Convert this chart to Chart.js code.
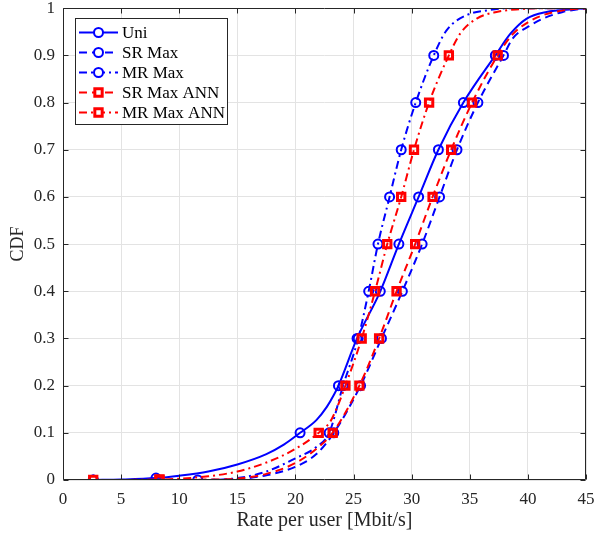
<!DOCTYPE html>
<html>
<head>
<meta charset="utf-8">
<script src="https://cdn.jsdelivr.net/npm/chart.js@4.4.0/dist/chart.umd.min.js"></script>
<style>
  html, body { margin: 0; padding: 0; background: #fff; }
</style>
</head>
<body>
<canvas id="graficoCDF" width="595" height="538"></canvas>
<script>
// valores (tasa en Mbit/s, CDF)
const xTicks = [0, 5, 10, 15, 20, 25, 30, 35, 40, 45];
const yTicks = [0, 0.1, 0.2, 0.3, 0.4, 0.5, 0.6, 0.7, 0.8, 0.9, 1];

const xUni = [2.6, 5, 8, 10, 12.5, 15, 17.5, 19, 20.4, 21.8, 22.7, 23.3, 23.7, 25.3, 27.3, 28.9, 30.6, 32.3, 34.45, 37.2, 38.5, 39.9, 41.6, 43.9, 45];
const yUni = [0, 0.001, 0.004, 0.009, 0.018, 0.033, 0.055, 0.075, 0.1, 0.127, 0.155, 0.18, 0.2, 0.3, 0.4, 0.5, 0.6, 0.7, 0.8, 0.9, 0.946, 0.978, 0.992, 0.998, 1];
const mUni = [1, 0, 1, 0, 0, 0, 0, 0, 1, 0, 0, 0, 1, 1, 1, 1, 1, 1, 1, 1, 0, 0, 0, 0, 0];

const xSR = [11.6, 15, 17.5, 20, 21.8, 23.3, 25.6, 27.4, 29.2, 30.9, 32.4, 33.9, 35.7, 37.9, 38.7, 40.1, 41.3, 43.0, 45];
const ySR = [0, 0.002, 0.01, 0.028, 0.055, 0.1, 0.2, 0.3, 0.4, 0.5, 0.6, 0.7, 0.8, 0.9, 0.936, 0.962, 0.978, 0.992, 1];
const mSR = [1, 0, 0, 0, 0, 1, 1, 1, 1, 1, 1, 1, 1, 1, 0, 0, 0, 0, 0];

const xMR = [2.6, 11.6, 15, 17.5, 20, 21.8, 22.9, 24.1, 25.4, 26.3, 27.1, 28.1, 29.1, 30.35, 31.9, 33.0, 34.7, 36.7, 38.5, 45];
const yMR = [0, 0, 0.004, 0.018, 0.046, 0.07, 0.1, 0.2, 0.3, 0.4, 0.5, 0.6, 0.7, 0.8, 0.9, 0.953, 0.985, 0.996, 1, 1];
const mMR = [1, 0, 0, 0, 0, 0, 1, 1, 1, 1, 1, 1, 1, 1, 1, 0, 0, 0, 0, 0];

const xSRA = [8.3, 12.5, 15, 17.5, 20, 22, 23.2, 25.5, 27.2, 28.7, 30.3, 31.8, 33.4, 35.2, 37.4, 38.7, 40, 41.5, 43.5, 45];
const ySRA = [0, 0.001, 0.003, 0.013, 0.036, 0.07, 0.1, 0.2, 0.3, 0.4, 0.5, 0.6, 0.7, 0.8, 0.9, 0.945, 0.97, 0.987, 0.997, 1];
const mSRA = [1, 0, 0, 0, 0, 0, 1, 1, 1, 1, 1, 1, 1, 1, 1, 0, 0, 0, 0, 0];

const xMRA = [2.6, 8.3, 12.5, 15, 17.5, 20, 22.0, 23.0, 23.55, 24.3, 25.7, 26.85, 27.9, 29.1, 30.2, 31.5, 33.2, 34.2, 35.6, 37.3, 39.3, 41, 45];
const yMRA = [0, 0.001, 0.008, 0.018, 0.037, 0.066, 0.1, 0.124, 0.152, 0.2, 0.3, 0.4, 0.5, 0.6, 0.7, 0.8, 0.9, 0.947, 0.978, 0.992, 0.998, 1, 1];
const mMRA = [1, 1, 0, 0, 0, 0, 1, 0, 0, 1, 1, 1, 1, 1, 1, 1, 1, 0, 0, 0, 0, 0, 0];

const AZUL = '#0000ff';
const ROJO = '#ff0000';
const EJE = '#262626';
const FUENTE = '"Liberation Serif", "Times New Roman", serif';

const DASH = [8, 5];
const DASHDOT = [8, 4, 2, 4];

function serie(label, xs, ys, ms, color, dash, estilo, orden) {
  const esCirculo = estilo === 'circle';
  return {
    label,
    data: xs.map((x, i) => ({ x, y: ys[i] })),
    borderColor: color,
    borderWidth: 2,
    borderDash: dash,
    showLine: true,
    fill: false,
    cubicInterpolationMode: 'monotone',
    pointStyle: estilo,
    pointRadius: ms.map(m => m ? (esCirculo ? 4.5 : 5.2) : 0),
    pointHoverRadius: 0,
    pointBorderWidth: esCirculo ? 2 : 3,
    pointBorderColor: color,
    pointBackgroundColor: 'rgba(255,255,255,0)',
    order: orden
  };
}

const datasets = [
  serie('Uni', xUni, yUni, mUni, AZUL, [], 'circle', 5),
  serie('SR Max', xSR, ySR, mSR, AZUL, DASH, 'circle', 4),
  serie('MR Max', xMR, yMR, mMR, AZUL, DASHDOT, 'circle', 3),
  serie('SR Max ANN', xSRA, ySRA, mSRA, ROJO, DASH, 'rect', 2),
  serie('MR Max ANN', xMRA, yMRA, mMRA, ROJO, DASHDOT, 'rect', 1)
];

function marcador(ctx, estilo, x, y, color) {
  ctx.save();
  ctx.setLineDash([]);
  ctx.strokeStyle = color;
  ctx.beginPath();
  if (estilo === 'circle') {
    ctx.lineWidth = 2;
    ctx.arc(x, y, 4.5, 0, Math.PI * 2);
  } else {
    ctx.lineWidth = 3;
    const s = 5.2 * Math.SQRT1_2;
    ctx.rect(x - s, y - s, 2 * s, 2 * s);
  }
  ctx.fillStyle = '#fff';
  ctx.fill();
  ctx.stroke();
  ctx.restore();
}

// marco con ticks hacia adentro (estilo MATLAB) + leyenda dentro del area
const marco = {
  id: 'marco',
  afterDraw(chart) {
    const { ctx, chartArea: a, scales } = chart;
    const L = Math.round(a.left) + 0.5, R = Math.round(a.right) - 0.5;
    const T = Math.round(a.top) + 0.5, B = Math.round(a.bottom) - 0.5;
    ctx.save();
    ctx.strokeStyle = EJE;
    ctx.lineWidth = 1;
    ctx.setLineDash([]);
    ctx.beginPath();
    ctx.rect(L, T, R - L, B - T);
    xTicks.forEach(v => {
      const px = Math.round(scales.x.getPixelForValue(v)) + 0.5;
      ctx.moveTo(px, B); ctx.lineTo(px, B - 5);
      ctx.moveTo(px, T); ctx.lineTo(px, T + 5);
    });
    yTicks.forEach(v => {
      const py = Math.round(scales.y.getPixelForValue(v)) + 0.5;
      ctx.moveTo(L, py); ctx.lineTo(L + 5, py);
      ctx.moveTo(R, py); ctx.lineTo(R - 5, py);
    });
    ctx.stroke();

    // leyenda
    const bx = 75.5, by = 18.5, bw = 152, bh = 106;
    ctx.fillStyle = '#fff';
    ctx.fillRect(bx, by, bw, bh);
    ctx.strokeStyle = EJE;
    ctx.strokeRect(bx, by, bw, bh);
    ctx.font = '17px ' + FUENTE;
    ctx.textBaseline = 'middle';
    chart.data.datasets.forEach((ds, i) => {
      const y = 32.5 + i * 20;
      ctx.save();
      ctx.strokeStyle = ds.borderColor;
      ctx.lineWidth = 2;
      ctx.setLineDash(ds.borderDash);
      ctx.beginPath();
      ctx.moveTo(79, y);
      ctx.lineTo(118, y);
      ctx.stroke();
      ctx.restore();
      marcador(ctx, ds.pointStyle, 98.5, y, ds.borderColor);
      ctx.fillStyle = '#000';
      ctx.fillText(ds.label, 122, y + 1);
    });
    ctx.restore();
  }
};

new Chart(document.getElementById('graficoCDF').getContext('2d'), {
  type: 'scatter',
  data: { datasets },
  plugins: [marco],
  options: {
    responsive: false,
    animation: false,
    events: [],
    layout: { padding: { top: 8, right: 9, left: 0, bottom: 0 } },
    plugins: {
      legend: { display: false },
      tooltip: { enabled: false }
    },
    scales: {
      x: {
        type: 'linear',
        min: 0,
        max: 45,
        afterFit: s => { s.height = 58; s.paddingLeft = 0; s.paddingRight = 0; },
        afterBuildTicks: s => { s.ticks = xTicks.map(v => ({ value: v })); },
        grid: { color: '#e3e3e3', lineWidth: 1, drawTicks: false },
        border: { display: false },
        ticks: {
          padding: 9,
          color: EJE,
          font: { family: FUENTE, size: 17 },
          maxRotation: 0,
          callback: v => String(v)
        },
        title: {
          display: true,
          text: 'Rate per user [Mbit/s]',
          color: EJE,
          font: { family: FUENTE, size: 20 },
          padding: { top: 0, bottom: 5 }
        }
      },
      y: {
        type: 'linear',
        min: 0,
        max: 1,
        afterFit: s => { s.width = 63; s.paddingTop = 0; s.paddingBottom = 0; },
        afterBuildTicks: s => { s.ticks = yTicks.map(v => ({ value: v })); },
        grid: { color: '#e3e3e3', lineWidth: 1, drawTicks: false },
        border: { display: false },
        ticks: {
          padding: 8,
          color: EJE,
          font: { family: FUENTE, size: 17 },
          callback: v => String(Number(v.toFixed(1)))
        },
        title: {
          display: true,
          text: 'CDF',
          color: EJE,
          font: { family: FUENTE, size: 18 },
          padding: { top: 7, bottom: 0 }
        }
      }
    }
  }
});
</script>
</body>
</html>
